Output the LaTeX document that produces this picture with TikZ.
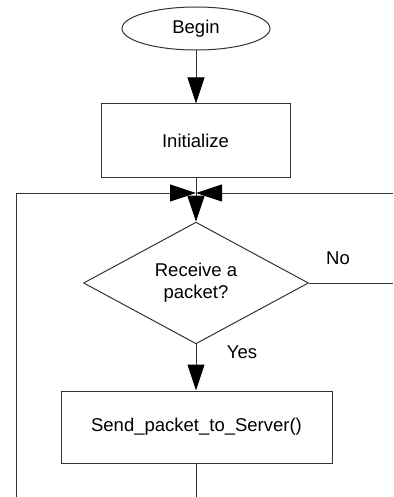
\documentclass[tikz,border=0pt]{standalone}
\usepackage{fontspec}
\setmainfont{Liberation Sans}
\usetikzlibrary{shapes.geometric,arrows.meta}
\begin{document}
\begin{tikzpicture}[x=1pt,y=-1pt,
  every node/.style={font=\fontsize{18.5}{22.2}\selectfont},
  flowline/.style={draw=black!80,line width=1pt},
  box/.style={flowline,rectangle,inner sep=0pt,anchor=center},
  arrowline/.style={flowline,-{Triangle[length=26pt,width=17pt,color=black,fill=black]}},
  lbl/.style={inner sep=0pt}]
  \useasboundingbox (0,0) rectangle (393,497);

  % process nodes
  \node[box,ellipse,minimum width=148pt,minimum height=43pt] (begin) at (196,28.5) {Begin};
  \node[box,minimum width=189pt,minimum height=73pt] (init) at (195.5,140.5) {Initialize};
  \node[box,diamond,minimum width=225pt,minimum height=102pt,align=center] (decide) at (196,283) {Receive a\\packet?};
  \node[box,minimum width=271pt,minimum height=72pt] (send) at (196.5,427) {Send\_packet\_to\_Server()};

  % loop-back junction and free ends
  \coordinate (j) at (196,193);
  \coordinate (lc) at (16,193);
  \coordinate (lb) at (16,497);
  \coordinate (rt) at (393,193);
  \coordinate (noend) at (393,283);
  \coordinate (sendend) at (196.5,497);

  % connectors
  \draw[arrowline] (begin) -- (init.north -| begin);
  \draw[arrowline] (init.south -| j) -- (decide.north);
  \draw[arrowline] (lc) -- (j);
  \draw[arrowline] (rt) -- (j);
  \draw[flowline] (lc) -- (lb);
  \draw[flowline] (decide.east) -- (noend);
  \draw[arrowline] (decide.south) -- (send.north -| decide.south);
  \draw[flowline] (send.south -| sendend) -- (sendend);

  % branch labels
  \node[lbl] (no) at (338,258) {No};
  \node[lbl] (yes) at (242,352) {Yes};
\end{tikzpicture}
\end{document}
